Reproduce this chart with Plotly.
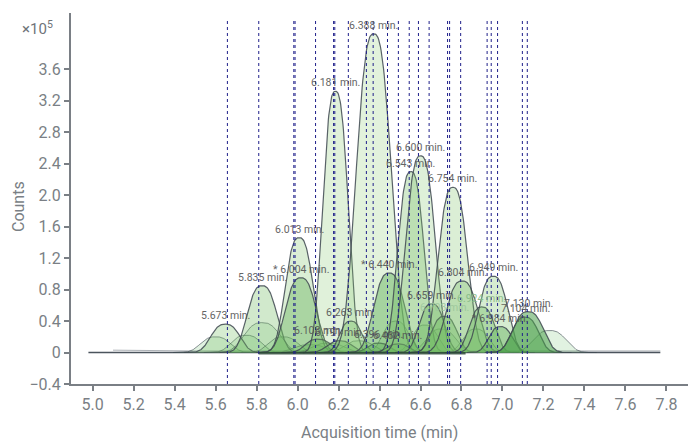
import numpy as np
import plotly.graph_objects as go

# Peak data (x10^5 counts, minutes); width = half-width parameter of each peak (min)
peak_labels = ["5.673 min.", "5.835 min.", "6.013 min.", "* 6.004 min.", "6.108 min.", "6.181 min.",
               "6.191 min.", "6.263 min.", "6.388 min.", "6.396 min.", "* 6.440 min.", "6.482 min.",
               "6.543 min.", "6.600 min.", "6.659 min.", "6.703 min.", "6.754 min.", "6.804 min.",
               "6.924 min.", "6.949 min.", "* 6.984 min.", "7.104 min.", "7.130 min."]
peak_rt = [5.648, 5.827, 6.008, 6.016, 6.100, 6.185, 6.205, 6.260, 6.372, 6.395, 6.447, 6.490,
           6.553, 6.600, 6.655, 6.716, 6.758, 6.803, 6.900, 6.955, 6.990, 7.110, 7.125]
peak_height = [0.36, 0.85, 1.46, 0.95, 0.17, 3.32, 0.15, 0.40, 4.05, 0.12, 1.01, 0.11,
               2.30, 2.50, 0.62, 0.46, 2.10, 0.91, 0.58, 0.97, 0.33, 0.45, 0.52]
peak_width = [0.088, 0.09, 0.085, 0.094, 0.078, 0.077, 0.078, 0.068, 0.106, 0.068, 0.094, 0.068,
              0.08, 0.09, 0.078, 0.078, 0.09, 0.097, 0.078, 0.088, 0.072, 0.082, 0.092]
peak_shade = [0.25, 0.3, 0.2, 0.5, 0.55, 0.12, 0.55, 0.35, 0.1, 0.55, 0.6, 0.55,
              0.3, 0.15, 0.45, 0.45, 0.2, 0.3, 0.45, 0.25, 0.55, 0.6, 0.8]
label_color = ["#555555"] * 15 + ["#9cc79c"] + ["#555555"] * 2 + ["#86bb86"] + ["#555555"] * 4

# unlabeled minor components
minor_rt = [5.600, 5.750, 5.827, 5.930, 6.300, 6.480, 6.700, 6.870, 7.230, 6.060, 6.150, 6.620]
minor_height = [0.20, 0.22, 0.38, 0.20, 0.15, 0.40, 0.30, 0.30, 0.28, 0.10, 0.12, 0.35]
minor_width = [0.09, 0.09, 0.11, 0.09, 0.09, 0.08, 0.09, 0.08, 0.10, 0.10, 0.10, 0.08]

# vertical marker lines (min)
marker_rt = [5.658, 5.811, 5.982, 5.988, 6.088, 6.176, 6.182, 6.248, 6.336, 6.369, 6.439, 6.492,
             6.545, 6.590, 6.642, 6.732, 6.742, 6.796, 6.925, 6.945, 6.976, 7.097, 7.121]

x_ticks = [5.0, 5.2, 5.4, 5.6, 5.8, 6.0, 6.2, 6.4, 6.6, 6.8, 7.0, 7.2, 7.4, 7.6, 7.8]
y_ticks = [-0.4, 0, 0.4, 0.8, 1.2, 1.6, 2.0, 2.4, 2.8, 3.2, 3.6]
y_ticktext = ["\u22120.4", "0", "0.4", "0.8", "1.2", "1.6", "2.0", "2.4", "2.8", "3.2", "3.6"]

SHAPE_P = 2.7

fig = go.Figure()

# baseline traces
fig.add_trace(go.Scatter(x=[5.10, 5.50, 7.40, 7.77], y=[0.03, 0.02, 0.02, 0.02], mode="lines",
                         line=dict(color="rgba(90,100,110,0.5)", width=1), hoverinfo="skip"))
fig.add_trace(go.Scatter(x=[4.98, 7.77], y=[0.0, 0.0], mode="lines",
                         line=dict(color="rgba(55,65,75,0.9)", width=1.5), hoverinfo="skip"))

def peak(c, h, w):
    t = np.linspace(c - 2.3 * w, c + 2.3 * w, 160)
    return t, h * np.exp(-np.abs((t - c) / w) ** SHAPE_P)

for c, h, w in zip(minor_rt, minor_height, minor_width):
    t, y = peak(c, h, w)
    fig.add_trace(go.Scatter(x=t, y=y, mode="lines", fill="tozeroy",
                             fillcolor="rgba(70,175,70,0.16)",
                             line=dict(color="rgba(60,72,80,0.6)", width=1), hoverinfo="skip"))

for c, h, w, a in zip(peak_rt, peak_height, peak_width, peak_shade):
    t, y = peak(c, h, w)
    r, g, b = int(140 - 80 * a), int(205 - 55 * a), int(115 - 50 * a)
    fill = f"rgba({r},{g},{b},{0.2 + 0.42 * a:.2f})"
    fig.add_trace(go.Scatter(x=t, y=y, mode="lines", fill="tozeroy", fillcolor=fill,
                             line=dict(color="rgba(62,72,80,0.85)", width=1.2), hoverinfo="skip"))

fig.add_trace(go.Scatter(x=[5.81, 6.82], y=[-0.01, -0.01], mode="lines",
                         line=dict(color="rgba(40,70,50,0.8)", width=2.5), hoverinfo="skip"))

for rt in marker_rt:
    fig.add_shape(type="line", x0=rt, x1=rt, y0=-0.4, y1=4.25, xref="x", yref="y",
                  line=dict(color="#1f1f8a", width=1, dash="dot"))

for lab, c, h, col in zip(peak_labels, peak_rt, peak_height, label_color):
    fig.add_annotation(x=c, y=h, text=lab, showarrow=False, xanchor="center", yanchor="bottom",
                       yshift=0, font=dict(family="Roboto", size=10.5, color=col), opacity=0.9)

fig.add_annotation(x=-0.026, y=1.0, xref="paper", yref="paper", text="\u00d710<sup>5</sup>",
                   showarrow=False, xanchor="right", yanchor="middle", yshift=-15,
                   font=dict(family="Roboto", size=15, color="#6f7479"))
fig.add_annotation(x=0, y=1.0, xref="paper", yref="paper", text="Counts", textangle=-90,
                   showarrow=False, xanchor="center", yanchor="middle", xshift=-53,
                   yshift=-194, font=dict(family="Roboto", size=16, color="#7a7f85"))
fig.add_annotation(x=0.5, y=0, xref="paper", yref="paper", text="Acquisition time (min)",
                   showarrow=False, xanchor="center", yanchor="middle", yshift=-48,
                   font=dict(family="Roboto", size=16, color="#7a7f85"))

axis_common = dict(showgrid=False, zeroline=False, showline=True, linecolor="#7a7f85",
                   linewidth=2, ticks="outside", ticklen=5, tickcolor="#7a7f85", tickwidth=1.5,
                   automargin=False,
                   tickfont=dict(family="Roboto", size=16, color="#7a7f85"))

fig.update_layout(
    width=688, height=442, showlegend=False,
    margin=dict(l=71, r=0, t=13, b=58),
    paper_bgcolor="white", plot_bgcolor="white",
    xaxis=dict(range=[4.895, 7.905], tickvals=x_ticks, ticktext=[f"{v:.1f}" for v in x_ticks],
               **axis_common),
    yaxis=dict(range=[-0.4, 4.315], tickvals=y_ticks, ticktext=y_ticktext, **axis_common),
)

fig.write_html("out.html", config={"displayModeBar": False},
               post_script="document.body.style.margin='0px';document.body.style.overflow='hidden';")
